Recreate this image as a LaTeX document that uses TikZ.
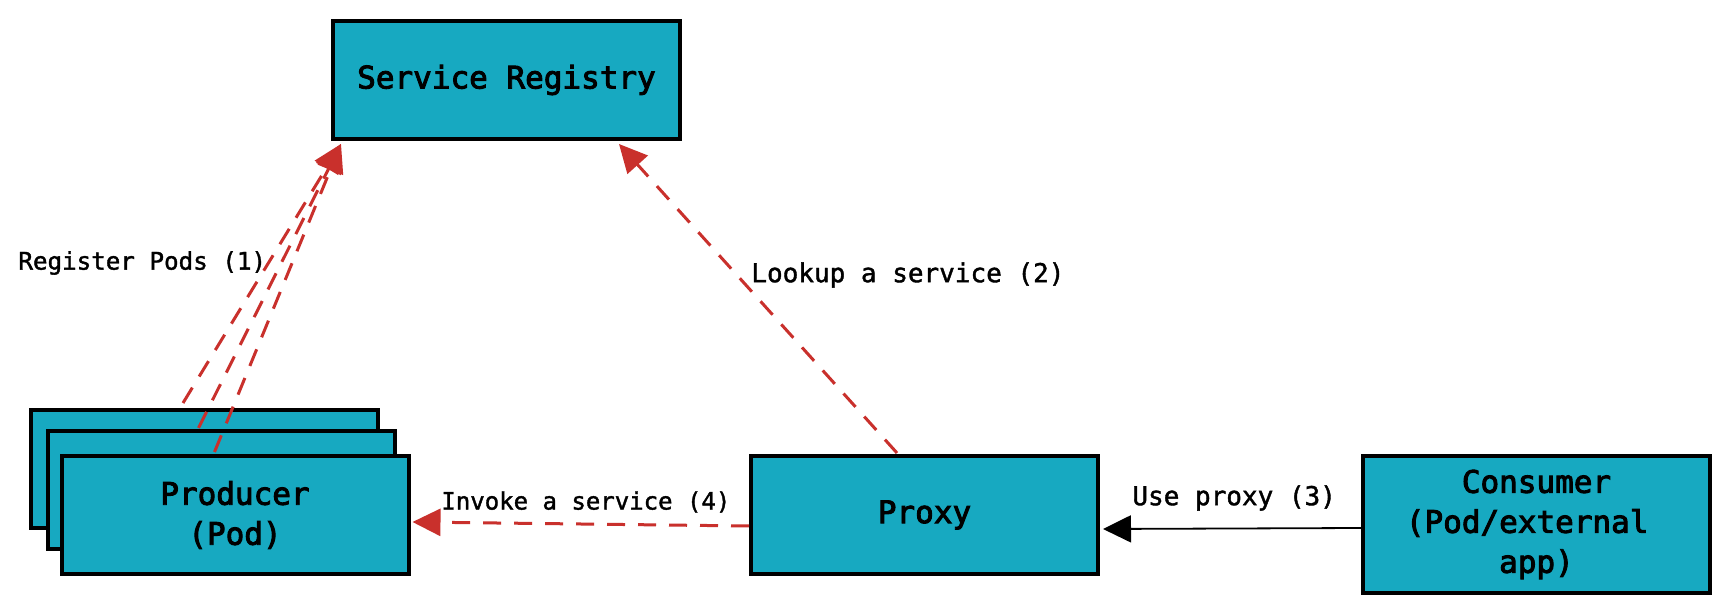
\documentclass[tikz,border=0pt]{standalone}
\usepackage{fontspec}
\setmonofont{DejaVu Sans Mono}
\newfontfamily\boxfont[FakeBold=3]{DejaVu Sans Mono}
\newfontfamily\lblfont[FakeBold=1.5]{DejaVu Sans Mono}
\usetikzlibrary{arrows.meta,calc}
\definecolor{teal1}{HTML}{17A9C1}
\definecolor{red1}{HTML}{C9302C}
\begin{document}
\begin{tikzpicture}[x=0.5pt,y=-0.5pt,
 box/.style={draw=black, line width=2pt, fill=teal1, minimum width=173.5pt, minimum height=59pt, inner sep=0pt, font=\boxfont\fontsize{15.5}{20}\selectfont, align=center},
 lbl/.style={inner sep=0pt, anchor=west, font=\lblfont\fontsize{13}{16}\selectfont},
 dashr/.style={draw=red1, line width=1.5pt, dash pattern=on 9pt off 6.5pt, -{Triangle[length=14pt,width=13.5pt]}},
 solidb/.style={draw=black, line width=0.9pt, -{Triangle[length=14pt,width=13.5pt]}}]
\useasboundingbox (0,0) rectangle (1731,614);
\fill[white] (0,0) rectangle (1731,614);
\node[box] (prodA) at (204.5,469) {};
\node[box] (prodB) at (221,490) {};
\node[box] (prodC) at (235,515) {Producer\\(Pod)};
\node[box] (reg) at (506.5,80) {Service Registry};
\node[box] (proxy) at (924.5,515) {Proxy};
\node[box, minimum height=68.5pt] (cons) at (1536.5,524.5) {Consumer\\(Pod/external\hphantom{x}\\app)};
\draw[dashr] ($(prodA.north west)+(154,-5)$) -- ($(reg.south west)+(10,3)$);
\draw[dashr] ($(prodB.north west)+(153,-1)$) -- ($(reg.south west)+(10,3)$);
\draw[dashr] ($(prodC.north west)+(155,-2)$) -- ($(reg.south west)+(10,3)$);
\draw[dashr] ($(proxy.north west)+(148,-1)$) -- ($(reg.south east)+(-63,3)$);
\draw[dashr] ($(proxy.west)+(0,11)$) -- ($(prodC.east)+(2,7)$);
\draw[solidb] ($(cons.west)+(0,3.5)$) -- ($(proxy.east)+(3,14)$);
\node[lbl, font=\lblfont\fontsize{12.1}{15}\selectfont] (l1) at (18,263) {Register Pods (1)};
\node[lbl] (l2) at (751,275) {Lookup a service (2)};
\node[lbl, font=\lblfont\fontsize{12}{15}\selectfont] (l4) at (441,502) {Invoke a service (4)};
\node[lbl] (l3) at (1132,498) {Use proxy (3)};
\end{tikzpicture}
\end{document}
